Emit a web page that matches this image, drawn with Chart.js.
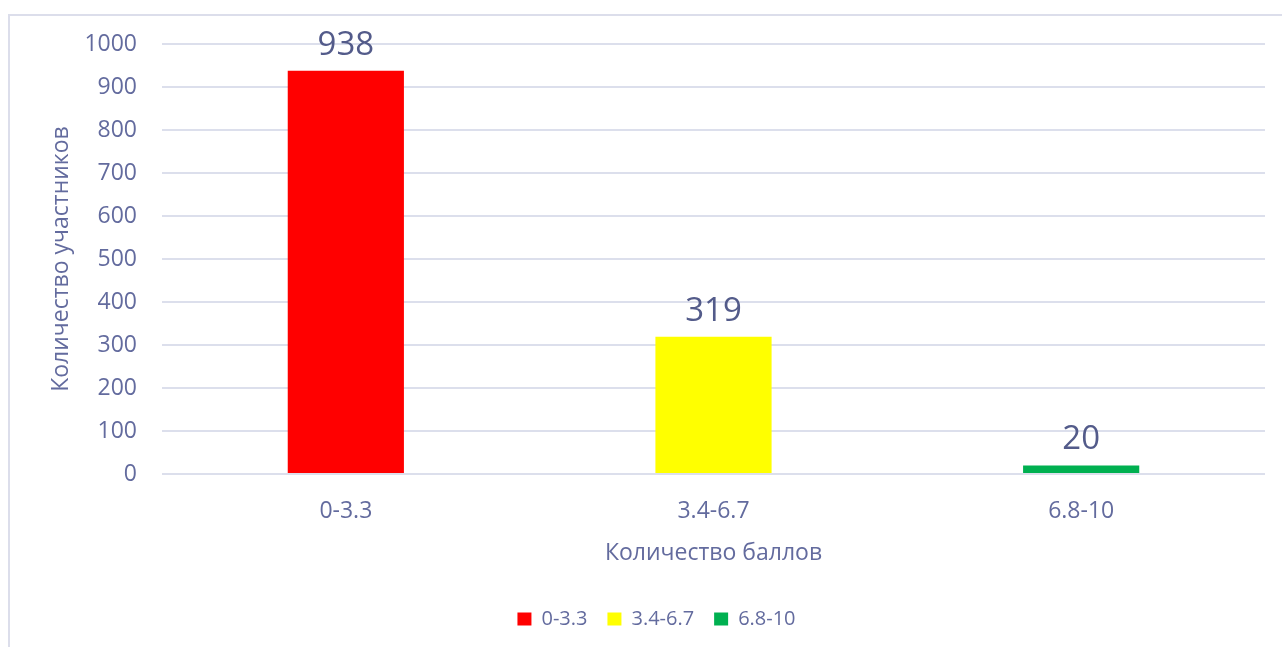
<!DOCTYPE html>
<html>
<head>
<meta charset="utf-8">
<script src="https://cdn.jsdelivr.net/npm/chart.js@4/dist/chart.umd.min.js"></script>
<style>
    html, body { margin: 0; padding: 0; background: #fff; overflow: hidden; }
    #frame { position: absolute; left: 8px; top: 14px; width: 1300px; height: 700px;
             border-left: 2px solid #dcdeeb; border-top: 2px solid #dcdeeb; }
    #wrap { position: absolute; left: 0; top: 0; width: 1282px; height: 647px; }
</style>
</head>
<body>
<div id="frame"></div>
<div id="wrap"><canvas id="chart1"></canvas></div>
<script>
const categories = ['0-3.3', '3.4-6.7', '6.8-10'];
const participants = [938, 319, 20];
const barColors = ['#ff0000', '#ffff00', '#00b050'];
const yTicks = [0, 100, 200, 300, 400, 500, 600, 700, 800, 900, 1000];

const textColor = '#636b9e';
const labelColor = '#535b8a';
const fontName = "'Open Sans', sans-serif";

// value labels above the bars
const barLabels = {
    id: 'barLabels',
    afterDatasetsDraw(chart) {
        const ctx = chart.ctx;
        const meta = chart.getDatasetMeta(0);
        ctx.save();
        ctx.fillStyle = labelColor;
        ctx.font = '33px ' + fontName;
        ctx.textAlign = 'center';
        ctx.textBaseline = 'alphabetic';
        meta.data.forEach(function(bar, i) {
            ctx.fillText(String(participants[i]), bar.x, bar.y - 16);
        });
        ctx.restore();
    }
};

document.addEventListener("DOMContentLoaded", function() {
    let chart1 = new Chart(document.getElementById('chart1'), {
        type: 'bar',
        data: {
            labels: categories,
            datasets: [{
                label: 'Количество участников',
                data: participants,
                backgroundColor: barColors,
                borderWidth: 0,
                barPercentage: 0.316,
                categoryPercentage: 1
            }]
        },
        options: {
            responsive: true,
            maintainAspectRatio: false,
            animation: false,
            layout: { padding: { top: 44, right: 17, left: 48, bottom: 8 } },
            scales: {
                x: {
                    grid: { display: false, drawTicks: false },
                    border: { display: false },
                    ticks: { color: textColor, font: { family: fontName, size: 23 }, padding: 24 },
                    title: { display: true, text: 'Количество баллов', color: textColor,
                             font: { family: fontName, size: 23 }, padding: { top: 0, bottom: 22 } },
                    afterFit: function(scale) { scale.height = 115; }
                },
                y: {
                    min: 0,
                    max: 1000,
                    afterBuildTicks: function(scale) { scale.ticks = yTicks.map(v => ({ value: v })); },
                    grid: { color: '#dcdfec', lineWidth: 2, drawTicks: false },
                    border: { display: false },
                    ticks: { color: textColor, font: { family: fontName, size: 23 }, padding: 25,
                             callback: function(v) { return String(v); } },
                    title: { display: true, text: 'Количество участников', color: textColor,
                             font: { family: fontName, size: 23 }, padding: { top: 0, bottom: 0 } },
                    afterFit: function(scale) { scale.width = 114; }
                }
            },
            plugins: {
                legend: {
                    display: true,
                    position: 'bottom',
                    labels: {
                        color: textColor,
                        font: { family: fontName, size: 20 },
                        boxWidth: 14,
                        boxHeight: 13,
                        padding: 20,
                        generateLabels: function() {
                            return categories.map(function(c, i) {
                                return { text: c, fillStyle: barColors[i], strokeStyle: barColors[i],
                                         lineWidth: 0, fontColor: textColor, hidden: false, index: i };
                            });
                        }
                    },
                    onClick: function() {}
                },
                title: { display: false },
                tooltip: { enabled: false }
            }
        },
        plugins: [barLabels]
    });

    console.log("Chart initialized:", chart1.chartArea);
});
</script>
</body>
</html>
